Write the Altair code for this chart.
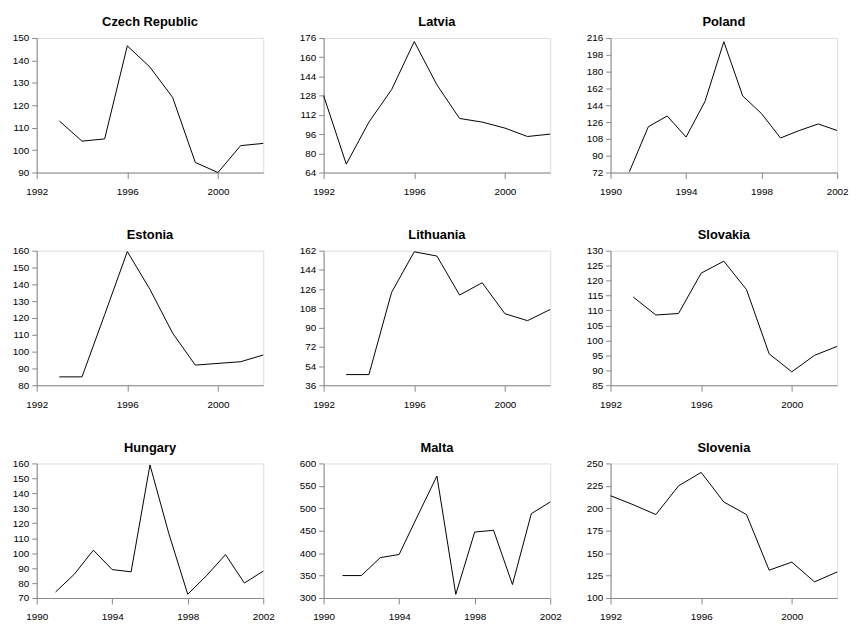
import altair as alt
import pandas as pd

# ---- data ----
czech_years = [1993, 1994, 1995, 1996, 1997, 1998, 1999, 2000, 2001, 2002]
czech_vals = [113, 104, 105, 146.5, 137, 123.5, 94.5, 90, 102, 103]

latvia_years = [1992, 1993, 1994, 1995, 1996, 1997, 1998, 1999, 2000, 2001, 2002]
latvia_vals = [128, 71, 106, 133, 173, 137, 109, 106, 101, 94, 96]

poland_years = [1991, 1992, 1993, 1994, 1995, 1996, 1997, 1998, 1999, 2000, 2001, 2002]
poland_vals = [73, 121, 132.5, 110, 148, 212, 154, 135, 109, 117, 124, 117]

estonia_years = [1993, 1994, 1995, 1996, 1997, 1998, 1999, 2000, 2001, 2002]
estonia_vals = [85, 85, 122, 159.5, 137, 111, 92, 93, 94, 98]

lithuania_years = [1993, 1994, 1995, 1996, 1997, 1998, 1999, 2000, 2001, 2002]
lithuania_vals = [46, 46, 123, 161, 157, 120.5, 132, 103, 96.5, 107]

slovakia_years = [1993, 1994, 1995, 1996, 1997, 1998, 1999, 2000, 2001, 2002]
slovakia_vals = [114.5, 108.5, 109, 122.5, 126.5, 117, 95.5, 89.5, 95, 98]

hungary_years = [1991, 1992, 1993, 1994, 1995, 1996, 1997, 1998, 1999, 2000, 2001, 2002]
hungary_vals = [74, 86, 102, 89, 87.5, 159, 113, 72.5, 85, 99, 80, 88]

malta_years = [1991, 1992, 1993, 1994, 1995, 1996, 1997, 1998, 1999, 2000, 2001, 2002]
malta_vals = [350, 350, 390, 397, 485, 572, 308, 447, 451, 330, 488, 514]

slovenia_years = [1992, 1993, 1994, 1995, 1996, 1997, 1998, 1999, 2000, 2001, 2002]
slovenia_vals = [214, 204, 193, 225, 240, 207, 193, 131, 140, 118, 129]

xticks_a = [1992, 1996, 2000]
xticks_b = [1990, 1994, 1998, 2002]

panels = [
    ("Czech Republic", czech_years, czech_vals, [1992, 2002], xticks_a, [90, 150], 10),
    ("Latvia", latvia_years, latvia_vals, [1992, 2002], xticks_a, [64, 176], 16),
    ("Poland", poland_years, poland_vals, [1990, 2002], xticks_b, [72, 216], 18),
    ("Estonia", estonia_years, estonia_vals, [1992, 2002], xticks_a, [80, 160], 10),
    ("Lithuania", lithuania_years, lithuania_vals, [1992, 2002], xticks_a, [36, 162], 18),
    ("Slovakia", slovakia_years, slovakia_vals, [1992, 2002], xticks_a, [85, 130], 5),
    ("Hungary", hungary_years, hungary_vals, [1990, 2002], xticks_b, [70, 160], 10),
    ("Malta", malta_years, malta_vals, [1990, 2002], xticks_b, [300, 600], 50),
    ("Slovenia", slovenia_years, slovenia_vals, [1992, 2002], xticks_a, [100, 250], 25),
]


def panel(name, years, vals, xdom, xticks, ydom, ystep):
    df = pd.DataFrame({"year": years, "value": vals})
    yt = list(range(ydom[0], ydom[1] + 1, ystep))
    return (
        alt.Chart(df, title=alt.Title(name))
        .mark_line(color="black", strokeWidth=1)
        .encode(
            x=alt.X(
                "year:Q",
                scale=alt.Scale(domain=xdom, nice=False, zero=False),
                axis=alt.Axis(values=xticks, format="d", title=None, grid=False,
                              tickSize=6, labelPadding=8, labelFlush=False),
            ),
            y=alt.Y(
                "value:Q",
                scale=alt.Scale(domain=ydom, nice=False, zero=False),
                axis=alt.Axis(values=yt, title=None, grid=False, tickSize=5,
                              labelPadding=3),
            ),
        )
        .properties(width=229, height=136)
    )


charts = [panel(*p) for p in panels]
chart = (
    alt.concat(*charts, columns=3, spacing=alt.RowColnumber(row=79, column=61),
               bounds="flush")
    .properties(padding={"left": 3, "top": 4, "right": 0, "bottom": 0})
    .configure_axis(labelFont="Liberation Sans", labelFontSize=11, labelColor="black",
                    domainColor="black", tickColor="black")
    .configure_title(font="Liberation Sans Narrow, DejaVu Sans Condensed, Liberation Sans",
                     fontSize=15, fontWeight="bold", color="black", offset=6)
    .configure_view(stroke="black", strokeWidth=1)
    .configure(background="white")
)

chart.save("out.html", embed_options={"renderer": "svg", "actions": False})
